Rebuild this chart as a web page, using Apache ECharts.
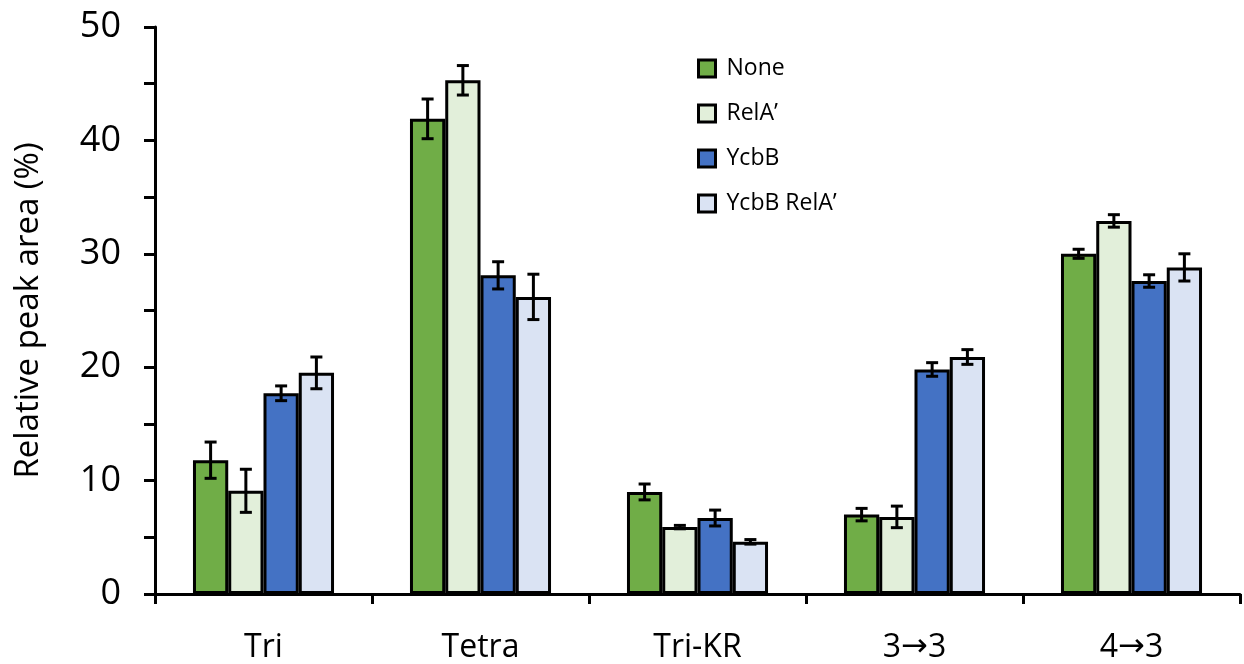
<!DOCTYPE html>
<html><head><meta charset="utf-8">
<script src="https://cdn.jsdelivr.net/npm/echarts@6/dist/echarts.min.js"></script>
<style>html,body{margin:0;padding:0;background:#fff}#c{width:1244px;height:664px}</style>
</head><body><div id="c"></div>
<script>
const categories = ['Tri', 'Tetra', 'Tri-KR', '3\u21923', '4\u21923'];
const seriesNames = ['None', 'RelA\u2019', 'YcbB', 'YcbB RelA\u2019'];
const colors = ['#70AD47', '#E2EFDA', '#4472C4', '#DAE3F3'];
const noneVals = [11.8, 41.9, 9.0, 7.0, 30.0];
const relaVals = [9.1, 45.3, 5.9, 6.8, 32.9];
const ycbbVals = [17.7, 28.1, 6.7, 19.8, 27.6];
const ycbbRelaVals = [19.5, 26.2, 4.6, 20.9, 28.8];
const noneErr = [1.6, 1.75, 0.7, 0.55, 0.4];
const relaErr = [1.9, 1.3, 0.15, 0.95, 0.55];
const ycbbErr = [0.65, 1.2, 0.7, 0.6, 0.55];
const ycbbRelaErr = [1.4, 2.0, 0.2, 0.65, 1.2];
const yTicks = [0, 10, 20, 30, 40, 50];

const vals = [noneVals, relaVals, ycbbVals, ycbbRelaVals];
const errs = [noneErr, relaErr, ycbbErr, ycbbRelaErr];
const chart = echarts.init(document.getElementById('c'));
const FONT = 'Open Sans';
const series = [];
vals.forEach((v, i) => {
  series.push({
    name: seriesNames[i], type: 'bar', data: v, barGap: '0%', barCategoryGap: '35%',
    itemStyle: { color: colors[i], borderColor: '#000', borderWidth: 3 }, z: 2
  });
});
vals.forEach((v, i) => {
  series.push({
    type: 'custom', z: 5, silent: true,
    data: v.map((val, k) => [k, val - errs[i][k], val + errs[i][k]]),
    renderItem: function (params, api) {
      const k = api.value(0);
      const lo = api.coord([k, api.value(1)]);
      const hi = api.coord([k, api.value(2)]);
      const catW = api.size([1, 0])[0];
      const groupW = catW * 0.65;
      const barW = groupW / 4;
      const x = lo[0] - groupW / 2 + barW * (i + 0.5);
      const cap = 6;
      const st = { stroke: '#000', lineWidth: 3 };
      return { type: 'group', children: [
        { type: 'line', shape: { x1: x, y1: lo[1], x2: x, y2: hi[1] }, style: st },
        { type: 'line', shape: { x1: x - cap, y1: lo[1], x2: x + cap, y2: lo[1] }, style: st },
        { type: 'line', shape: { x1: x - cap, y1: hi[1], x2: x + cap, y2: hi[1] }, style: st }
      ]};
    }
  });
});
chart.setOption({
  animation: false,
  backgroundColor: '#fff',
  textStyle: { fontFamily: FONT },
  grid: { left: 155, right: 4, top: 27, bottom: 69, containLabel: false },
  legend: {
    data: seriesNames, orient: 'vertical', left: 692, top: 52, itemGap: 22,
    icon: 'rect', itemWidth: 17, itemHeight: 17,
    itemStyle: { borderColor: '#000', borderWidth: 3 },
    textStyle: { fontFamily: FONT, fontSize: 23, color: '#000', padding: [0, 0, 0, 6] }
  },
  xAxis: {
    type: 'category', data: categories,
    axisLine: { lineStyle: { color: '#000', width: 3 } },
    axisTick: { show: true, alignWithLabel: false, length: 10, lineStyle: { color: '#000', width: 3 } },
    axisLabel: { color: '#000', fontSize: 32, fontFamily: FONT, margin: 38,
      formatter: function (s) {
        const p = s.split('\u2192');
        return p.length > 1 ? p[0] + '{a|\u2192}' + p[1] : s;
      },
      rich: { a: { fontFamily: 'DejaVu Sans', fontSize: 32, color: '#000' } } }
  },
  yAxis: {
    type: 'value', min: 0, max: 50, interval: 10,
    name: 'Relative peak area (%)', nameLocation: 'middle', nameGap: 110,
    nameTextStyle: { color: '#000', fontSize: 33, fontFamily: FONT },
    axisLine: { show: true, lineStyle: { color: '#000', width: 3 } },
    axisTick: { show: true, length: 11, lineStyle: { color: '#000', width: 3 } },
    minorTick: { show: true, splitNumber: 2, length: 11, lineStyle: { color: '#000', width: 3 } },
    splitLine: { show: false },
    axisLabel: { color: '#000', fontSize: 36, fontFamily: FONT, margin: 34,
      formatter: v => yTicks.includes(v) ? String(v) : '' }
  },
  series: series
});
</script></body></html>
